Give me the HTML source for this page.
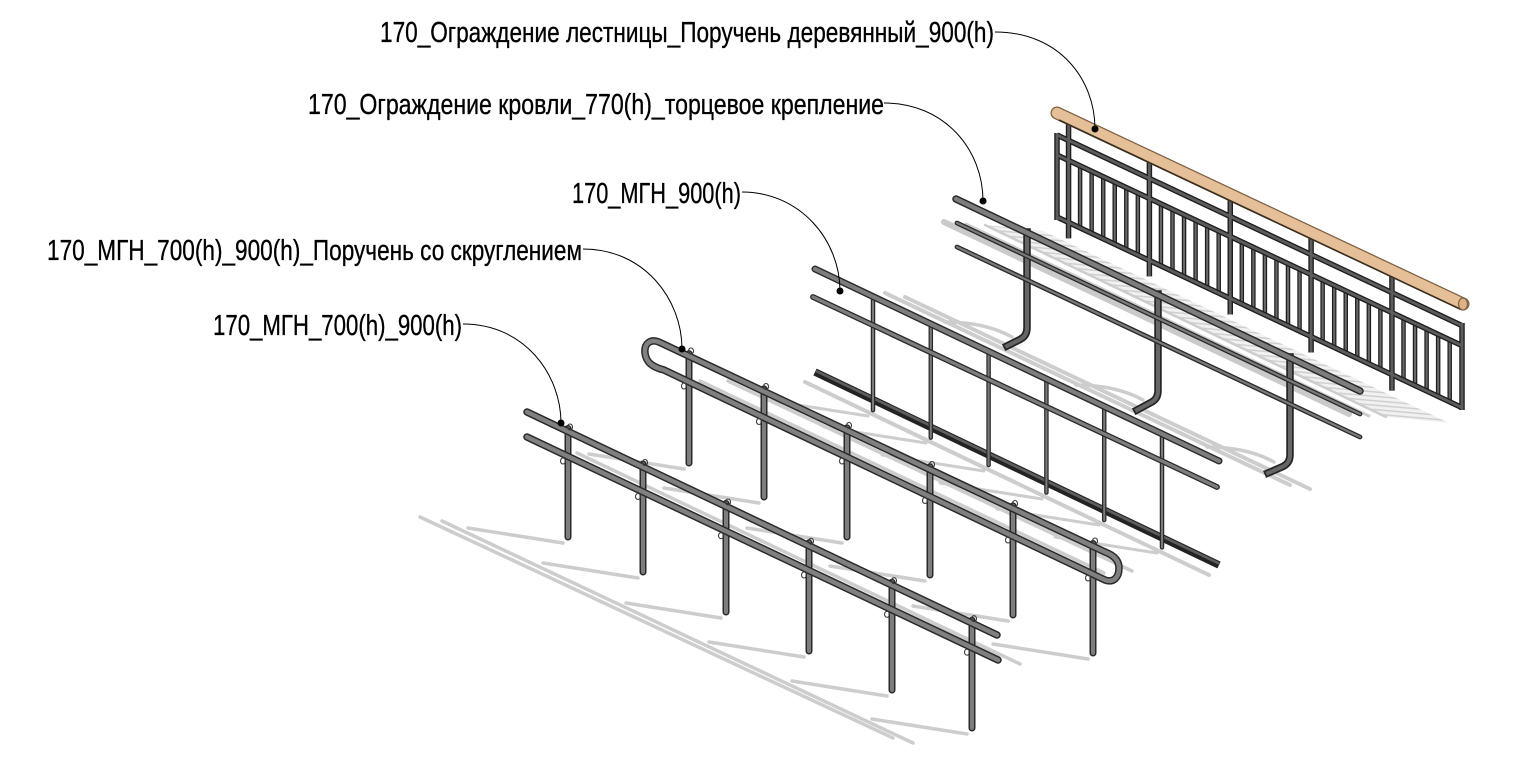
<!DOCTYPE html>
<html><head><meta charset="utf-8"><style>
html,body{margin:0;padding:0;background:#fff;}
svg{display:block;}
.t{font-family:"Liberation Sans Narrow","Liberation Sans",sans-serif;font-size:29px;fill:#000;stroke:#000;stroke-width:0.35px;}
</style></head><body>
<svg width="1515" height="784" viewBox="0 0 1515 784" xmlns="http://www.w3.org/2000/svg">
<defs>
<pattern id="hatch" width="30" height="4.4" patternUnits="userSpaceOnUse" patternTransform="rotate(5)">
<rect width="30" height="4.4" fill="#f1f1f1"/>
<line x1="0" y1="2.2" x2="30" y2="2.2" stroke="#cfcfcf" stroke-width="1.5"/>
</pattern>
<g id="r1bars">
<path d="M1057,135L1462,325.6 M1057,155L1462,345.6 M1057,217L1462,407.6 M1057,133V220 M1462,323V410"/>
<path d="M1068.55,123.4V238.4 M1149.4,161.4V276.4 M1230.25,199.5V314.5 M1311.1,237.5V352.5 M1391.95,275.6V390.6"/>
</g>
<path id="r1bal" d="M1080.1,165.87v62 M1091.65,171.31v62 M1103.2,176.74v62 M1114.75,182.18v62 M1126.3,187.61v62 M1137.85,193.05v62 M1160.95,203.92v62 M1172.5,209.35v62 M1184.05,214.79v62 M1195.6,220.22v62 M1207.15,225.66v62 M1218.7,231.09v62 M1241.8,241.96v62 M1253.35,247.4v62 M1264.9,252.83v62 M1276.45,258.27v62 M1288,263.7v62 M1299.55,269.14v62 M1322.65,280.01v62 M1334.2,285.44v62 M1345.75,290.88v62 M1357.3,296.31v62 M1368.85,301.75v62 M1380.4,307.18v62 M1403.5,318.05v62 M1415.05,323.49v62 M1426.6,328.92v62 M1438.15,334.36v62 M1449.7,339.79v62"/>
<path id="r2br" d="M1027,232V328Q1027,336 1020,339.5L1007,346 M1158,294V391Q1158,399 1151,402.5L1137,410 M1290,357V455Q1290,463 1283,466.5L1268,473"/>
<path id="r2top" d="M956,199L1360,391"/>
<path id="r2low" d="M957,223L1360,414 M957,247L1360,437"/>
<path id="r3posts" d="M873,296.6V410.1 M930.8,324.1V437.6 M988.6,351.5V465 M1046.4,379V492.5 M1104.2,406.5V520 M1162,433.9V547.4"/>
<path id="r3top" d="M815,269L1219,461"/>
<path id="r3mid" d="M813,297L1217,487"/>
<path id="r4posts" d="M689,353.6V463 M764,388.9V497 M847,427.9V537 M930,466.8V575 M1013,505.9V615 M1093,543.5V653"/>
<path id="r4rail" d="M1105,552L660,342.5C650,338 644,344 645,353C646,362 652,367 664,370L1105,580C1113,583 1119,578 1119,568C1119,560 1113,555 1105,552Z"/>
<path id="r5posts" d="M568,428.5V537 M643,464V572 M726,503.4V612 M809,542.8V651 M892,582.2V690 M972,620.2V728"/>
<path id="r5rails" d="M527,412L997,635 M527,437L998,660"/>
</defs>
<rect width="1515" height="784" fill="#fff"/>

<!-- shadows -->
<polygon points="1043,231 1449,423 1386,417 985,225" fill="url(#hatch)"/>
<g fill="none" stroke="#cdcdcd" stroke-linecap="round">
<path d="M944,222L1349,414" stroke-width="6" stroke="#cacaca"/>
<path d="M966,224L1369,416" stroke-width="3"/>
<path d="M985,225L1386,417" stroke-width="2.5"/>
<path d="M885,293L1290,485 M905,297L1310,489" stroke-width="4"/>
<path d="M945,322Q985,322 1012,337 M1076,385Q1116,385 1143,400 M1207,447Q1247,447 1274,462" stroke-width="3.5"/>
<path d="M700,381L1104,573 M728,381L1132,571" stroke-width="3.5"/>
<path d="M805,382L1209,575" stroke-width="4"/>
<path d="M868,416L766,400 M926,443L824,427 M984,471L882,455 M1042,499L940,483 M1099,525L997,509 M1157,553L1055,537" stroke-width="3"/>
<path d="M551,447L998,657 M577,453L1020,664" stroke-width="3.5"/>
<path d="M684,469L589,454 M759,503L664,488 M842,543L747,528 M925,581L830,566 M1008,621L913,606 M1088,659L993,644" stroke-width="3.5"/>
<path d="M420,517L893,738 M442,521L913,743" stroke-width="3.5"/>
<path d="M563,543L468,528 M638,578L543,563 M721,618L626,603 M804,657L709,642 M887,696L792,681 M967,734L872,719" stroke-width="3.5"/>
</g>

<!-- railing 1 -->
<g fill="none" stroke-linecap="butt">
<use href="#r1bal" stroke="#1e1e1e" stroke-width="4.5"/>
<use href="#r1bal" stroke="#6a6a6a" stroke-width="2"/>
<use href="#r1bars" stroke="#1e1e1e" stroke-width="5.5"/>
<use href="#r1bars" stroke="#5c5c5c" stroke-width="2.8"/>
</g>
<path d="M1057,113L1463,304" stroke="#7d5f43" stroke-width="13" stroke-linecap="round" fill="none"/>
<path d="M1057,113L1463,304" stroke="#e4bf97" stroke-width="10.5" stroke-linecap="round" fill="none"/>
<path d="M1059,120L1461,309.5" stroke="#3a2e22" stroke-width="1.6" fill="none"/>
<ellipse cx="1463" cy="304" rx="4.5" ry="6" fill="#dcb387" stroke="#7d5f43" stroke-width="1.2"/>

<!-- railing 2 -->
<g fill="none">
<use href="#r2br" stroke="#262626" stroke-width="7.5" stroke-linecap="square"/>
<use href="#r2br" stroke="#666" stroke-width="4" stroke-linecap="square"/>
<use href="#r2low" stroke="#2a2a2a" stroke-width="4.8" stroke-linecap="round"/>
<use href="#r2low" stroke="#7a7a7a" stroke-width="2.2" stroke-linecap="round"/>
<use href="#r2top" stroke="#2a2a2a" stroke-width="7.5" stroke-linecap="round"/>
<use href="#r2top" stroke="#7d7d7d" stroke-width="4.5" stroke-linecap="round"/>
</g>

<!-- railing 3 -->
<g fill="none">
<path d="M815,372L1219,565" stroke="#232323" stroke-width="7.5"/>
<path d="M816,371L1219,563.5" stroke="#5e5e5e" stroke-width="2.6"/>
<use href="#r3posts" stroke="#2a2a2a" stroke-width="4.5" stroke-linecap="round"/>
<use href="#r3posts" stroke="#7a7a7a" stroke-width="2" stroke-linecap="round"/>
<use href="#r3mid" stroke="#2a2a2a" stroke-width="5.8" stroke-linecap="round"/>
<use href="#r3mid" stroke="#7d7d7d" stroke-width="3.2" stroke-linecap="round"/>
<use href="#r3top" stroke="#2a2a2a" stroke-width="7" stroke-linecap="round"/>
<use href="#r3top" stroke="#7d7d7d" stroke-width="4.2" stroke-linecap="round"/>
</g>

<!-- railing 4 -->
<g fill="none">
<use href="#r4posts" stroke="#2a2a2a" stroke-width="7" stroke-linecap="round"/>
<use href="#r4posts" stroke="#7d7d7d" stroke-width="4" stroke-linecap="round"/>
<use href="#r4rail" stroke="#2a2a2a" stroke-width="7.5" stroke-linejoin="round"/>
<use href="#r4rail" stroke="#808080" stroke-width="4.5" stroke-linejoin="round"/>
</g>
<g fill="none" stroke="#3a3a3a" stroke-width="1.1">
<ellipse cx="691" cy="351" rx="2.5" ry="3"/><ellipse cx="684" cy="386" rx="2.5" ry="3"/>
<ellipse cx="766" cy="386.5" rx="2.5" ry="3"/><ellipse cx="759" cy="421.5" rx="2.5" ry="3"/>
<ellipse cx="849" cy="425.5" rx="2.5" ry="3"/><ellipse cx="842" cy="461" rx="2.5" ry="3"/>
<ellipse cx="932" cy="464.5" rx="2.5" ry="3"/><ellipse cx="925" cy="500.5" rx="2.5" ry="3"/>
<ellipse cx="1015" cy="503.5" rx="2.5" ry="3"/><ellipse cx="1008" cy="540" rx="2.5" ry="3"/>
<ellipse cx="1095" cy="541" rx="2.5" ry="3"/><ellipse cx="1088" cy="578" rx="2.5" ry="3"/>
</g>

<!-- railing 5 -->
<g fill="none">
<use href="#r5posts" stroke="#2a2a2a" stroke-width="7" stroke-linecap="round"/>
<use href="#r5posts" stroke="#7d7d7d" stroke-width="4" stroke-linecap="round"/>
<use href="#r5rails" stroke="#2a2a2a" stroke-width="7.5" stroke-linecap="round"/>
<use href="#r5rails" stroke="#808080" stroke-width="4.5" stroke-linecap="round"/>
</g>
<g fill="none" stroke="#3a3a3a" stroke-width="1.1">
<ellipse cx="570" cy="427" rx="2.5" ry="3"/><ellipse cx="563" cy="461" rx="2.5" ry="3"/>
<ellipse cx="645" cy="462.5" rx="2.5" ry="3"/><ellipse cx="638" cy="496.5" rx="2.5" ry="3"/>
<ellipse cx="728" cy="502" rx="2.5" ry="3"/><ellipse cx="721" cy="535.7" rx="2.5" ry="3"/>
<ellipse cx="811" cy="541.3" rx="2.5" ry="3"/><ellipse cx="804" cy="575" rx="2.5" ry="3"/>
<ellipse cx="894" cy="580.7" rx="2.5" ry="3"/><ellipse cx="887" cy="614.3" rx="2.5" ry="3"/>
<ellipse cx="974" cy="618.7" rx="2.5" ry="3"/><ellipse cx="967" cy="652.2" rx="2.5" ry="3"/>
</g>

<!-- leaders -->
<g fill="none" stroke="#000" stroke-width="1">
<path d="M995,32C1060,32 1095,80 1095,129"/>
<path d="M884,103C945,103 983,150 983,201"/>
<path d="M742,192C800,192 840,240 840,291"/>
<path d="M583,249C645,249 682,300 682,349"/>
<path d="M463,324C525,324 561,375 561,423"/>
</g>
<g fill="#000">
<circle cx="1095" cy="129" r="3.5"/>
<circle cx="983" cy="201" r="3.5"/>
<circle cx="840" cy="291" r="3.5"/>
<circle cx="682" cy="349" r="3.5"/>
<circle cx="561" cy="423" r="3.5"/>
</g>

<!-- labels -->
<text class="t" x="380" y="42" textLength="614" lengthAdjust="spacingAndGlyphs">170_Ограждение лестницы_Поручень деревянный_900(h)</text>
<text class="t" x="308" y="114" textLength="576" lengthAdjust="spacingAndGlyphs">170_Ограждение кровли_770(h)_торцевое крепление</text>
<text class="t" x="572" y="203" textLength="169" lengthAdjust="spacingAndGlyphs">170_МГН_900(h)</text>
<text class="t" x="47" y="260" textLength="535" lengthAdjust="spacingAndGlyphs">170_МГН_700(h)_900(h)_Поручень со скруглением</text>
<text class="t" x="213" y="335" textLength="249" lengthAdjust="spacingAndGlyphs">170_МГН_700(h)_900(h)</text>
</svg>
</body></html>
